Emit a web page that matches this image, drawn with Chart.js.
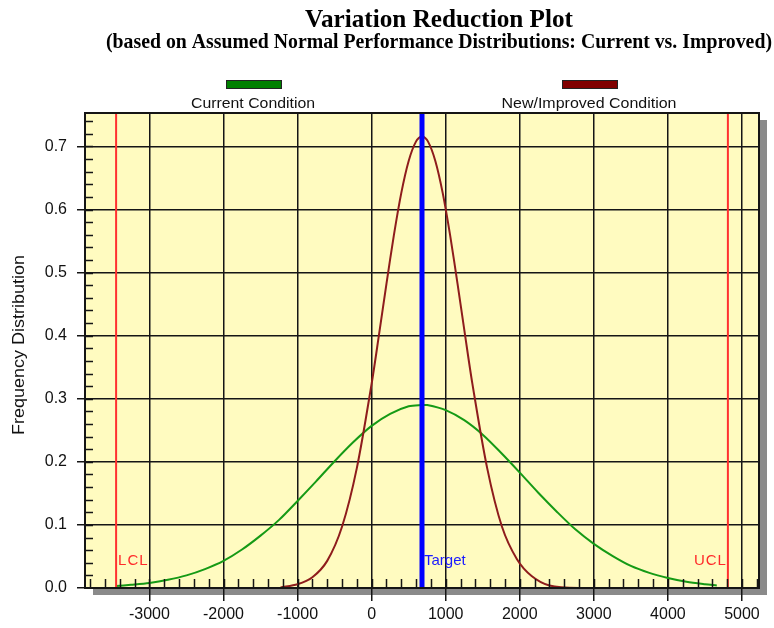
<!DOCTYPE html>
<html>
<head>
<meta charset="utf-8">
<title>Variation Reduction Plot</title>
<script src="https://cdn.jsdelivr.net/npm/chart.js@4.4.1/dist/chart.umd.min.js"></script>
<style>
  html, body { margin: 0; padding: 0; background: #ffffff; }
  #plot { display: block; }
</style>
</head>
<body>
<canvas id="plot" width="774" height="628"></canvas>
<script>
// ---- data ----
const greenX = [-3450, -3250, -3000, -2750, -2500, -2250, -2000, -1750, -1500, -1250, -1000, -750, -500, -250, 0, 250, 500, 680, 750, 1000, 1250, 1500, 1750, 2000, 2250, 2500, 2750, 3000, 3250, 3500, 3750, 4000, 4250, 4500, 4660];
const greenY = [0.003, 0.005, 0.008, 0.013, 0.020, 0.030, 0.043, 0.061, 0.083, 0.108, 0.138, 0.169, 0.201, 0.231, 0.257, 0.276, 0.288, 0.290, 0.290, 0.282, 0.266, 0.243, 0.214, 0.183, 0.151, 0.121, 0.093, 0.070, 0.051, 0.035, 0.024, 0.016, 0.010, 0.006, 0.004];

const redX = [-1230, -1000, -800, -600, -400, -200, 0, 100, 200, 300, 400, 500, 600, 680, 760, 860, 960, 1060, 1160, 1260, 1360, 1560, 1760, 1960, 2160, 2400, 2800, 4810];
const redY = [0.001, 0.006, 0.017, 0.043, 0.097, 0.190, 0.324, 0.402, 0.482, 0.559, 0.626, 0.677, 0.708, 0.716, 0.708, 0.677, 0.626, 0.559, 0.482, 0.402, 0.324, 0.190, 0.097, 0.046, 0.019, 0.004, 0, 0];

const lclX = -3450;
const uclX = 4810;
const targetX = 680;

const xTickValues = [-3000, -2000, -1000, 0, 1000, 2000, 3000, 4000, 5000];
const yTickValues = [0, 0.1, 0.2, 0.3, 0.4, 0.5, 0.6, 0.7];

const X_MIN = -3870, X_MAX = 5230;
const Y_MIN = 0, Y_MAX = 0.753;

const seriesNames = ['Current Condition', 'New/Improved Condition'];

// ---- helpers ----
const toPoints = (xs, ys) => xs.map((x, i) => ({ x: x, y: ys[i] }));
const vLine = (x) => [{ x: x, y: Y_MIN }, { x: x, y: Y_MAX }];

// text squeezed/stretched horizontally to a given width
function fitText(ctx, text, cx, y, width) {
    const w = ctx.measureText(text).width;
    ctx.save();
    ctx.translate(cx, y);
    ctx.scale(width / w, 1);
    ctx.textAlign = 'center';
    ctx.fillText(text, 0, 0);
    ctx.restore();
}

const framePlugin = {
    id: 'frame',
    beforeDraw(chart) {
        const { ctx, chartArea: a } = chart;
        ctx.save();
        // drop shadow
        ctx.fillStyle = '#8a8a8a';
        ctx.fillRect(a.left + 8, a.top + 7, a.right - a.left, a.bottom - a.top);
        // plot background
        ctx.fillStyle = 'rgb(255, 251, 192)';
        ctx.fillRect(a.left, a.top, a.right - a.left, a.bottom - a.top);
        ctx.restore();
    },
    afterDatasetsDraw(chart) {
        const { ctx, chartArea: a, scales } = chart;
        ctx.save();
        ctx.strokeStyle = '#151515';
        ctx.lineWidth = 1.5;
        // minor ticks
        ctx.beginPath();
        for (let v = -3800; v <= 5200; v += 200) {
            const px = Math.round(scales.x.getPixelForValue(v)) + 0.5;
            ctx.moveTo(px, a.bottom);
            ctx.lineTo(px, a.bottom - 9);
        }
        for (let k = 1; k <= 37; k++) {
            const py = Math.round(scales.y.getPixelForValue(k * 0.02)) + 0.5;
            ctx.moveTo(a.left, py);
            ctx.lineTo(a.left + 8, py);
        }
        ctx.stroke();
        // frame
        ctx.lineWidth = 2;
        ctx.strokeRect(a.left, a.top, a.right - a.left, a.bottom - a.top);
        ctx.restore();
    },
    afterDraw(chart) {
        const { ctx, scales } = chart;
        ctx.save();

        // titles
        ctx.fillStyle = '#000';
        ctx.font = 'bold 25px "Liberation Serif", "Times New Roman", serif';
        fitText(ctx, 'Variation Reduction Plot', 439, 27, 268);
        ctx.font = 'bold 22px "Liberation Serif", "Times New Roman", serif';
        fitText(ctx, '(based on Assumed Normal Performance Distributions: Current vs. Improved)', 439, 48, 666);

        // legend
        ctx.lineWidth = 1;
        ctx.strokeStyle = '#222';
        ctx.fillStyle = '#008000';
        ctx.fillRect(226, 80, 55, 8);
        ctx.strokeRect(226.5, 80.5, 55, 8);
        ctx.fillStyle = '#800000';
        ctx.fillRect(562, 80, 55, 8);
        ctx.strokeRect(562.5, 80.5, 55, 8);
        ctx.fillStyle = '#111';
        ctx.font = '15px "Liberation Sans", Arial, sans-serif';
        fitText(ctx, seriesNames[0], 253, 108, 124);
        fitText(ctx, seriesNames[1], 589, 108, 175);

        // y axis title
        ctx.save();
        ctx.translate(24, 345);
        ctx.rotate(-Math.PI / 2);
        ctx.font = '16px "Liberation Sans", Arial, sans-serif';
        fitText(ctx, 'Frequency Distribution', 0, 0, 180);
        ctx.restore();

        // limit labels
        const base = 565;
        ctx.font = '15px "Liberation Sans", Arial, sans-serif';
        ctx.letterSpacing = '1px';
        ctx.fillStyle = '#ff2a2a';
        ctx.textAlign = 'left';
        ctx.fillText('LCL', scales.x.getPixelForValue(lclX) + 2, base);
        ctx.textAlign = 'right';
        ctx.fillText('UCL', scales.x.getPixelForValue(uclX) - 1, base);
        ctx.letterSpacing = '0px';
        ctx.fillStyle = '#1a1aff';
        ctx.textAlign = 'left';
        ctx.fillText('Target', scales.x.getPixelForValue(targetX) + 2, base);

        ctx.restore();
    }
};

const tickFont = { family: '"Liberation Sans", Arial, sans-serif', size: 16 };

new Chart(document.getElementById('plot'), {
    type: 'scatter',
    data: {
        datasets: [
            { label: 'Target', data: vLine(targetX), showLine: true, borderColor: '#0000ff', borderWidth: 5, pointRadius: 0 },
            { label: 'LCL', data: vLine(lclX), showLine: true, borderColor: '#ff3030', borderWidth: 2, pointRadius: 0 },
            { label: 'UCL', data: vLine(uclX), showLine: true, borderColor: '#ff3030', borderWidth: 2, pointRadius: 0 },
            { label: seriesNames[1], data: toPoints(redX, redY), showLine: true, borderColor: '#8e1c1c', borderWidth: 2, pointRadius: 0, tension: 0.3 },
            { label: seriesNames[0], data: toPoints(greenX, greenY), showLine: true, borderColor: '#159a15', borderWidth: 2, pointRadius: 0, tension: 0.3 }
        ]
    },
    options: {
        responsive: false,
        animation: false,
        layout: { padding: { top: 113, right: 15, left: 0, bottom: 0 } },
        plugins: {
            legend: { display: false },
            tooltip: { enabled: false },
            title: { display: false }
        },
        scales: {
            x: {
                type: 'linear',
                min: X_MIN,
                max: X_MAX,
                afterBuildTicks: (s) => { s.ticks = xTickValues.map(v => ({ value: v })); },
                afterFit: (s) => { s.height = 40; },
                border: { display: false },
                grid: { color: '#151515', lineWidth: 1.5, tickLength: 13, tickColor: '#151515', tickWidth: 1.5 },
                ticks: { color: '#111', font: tickFont, padding: 4, maxRotation: 0, autoSkip: false, callback: (v) => String(v) }
            },
            y: {
                min: Y_MIN,
                max: Y_MAX,
                afterBuildTicks: (s) => { s.ticks = yTickValues.map(v => ({ value: v })); },
                afterFit: (s) => { s.width = 85; },
                border: { display: false },
                grid: { color: '#151515', lineWidth: 1.5, tickLength: 8, tickColor: '#151515', tickWidth: 1.5 },
                ticks: { color: '#111', font: tickFont, padding: 10, autoSkip: false, callback: (v) => v.toFixed(1) }
            }
        }
    },
    plugins: [framePlugin]
});
</script>
</body>
</html>
